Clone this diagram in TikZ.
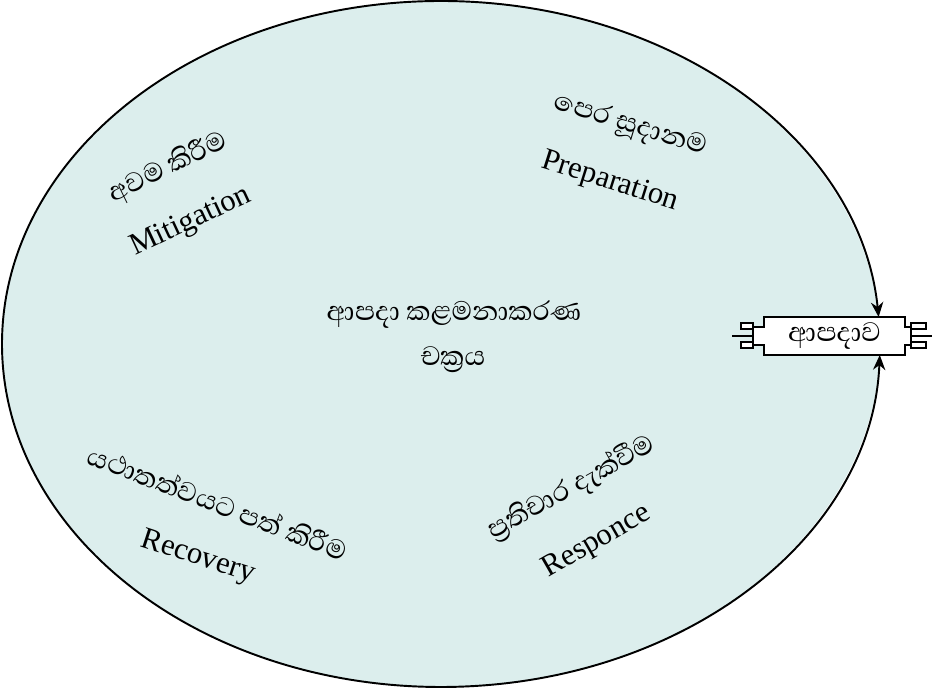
\documentclass[tikz,border=0pt]{standalone}
\usepackage{fontspec}
\setmainfont{Liberation Serif}
\newfontfamily\sinhala[Script=Sinhala]{Abhaya Libre}
\usetikzlibrary{arrows.meta}
\definecolor{cycfill}{RGB}{220,238,237}
\pgfdeclarelayer{bg}
\pgfsetlayers{bg,main}
\begin{document}
\begin{tikzpicture}[x=0.02cm,y=0.02cm,
  engtxt/.style={font=\fontsize{17.5}{20}\selectfont},
  sintxt/.style={font=\sinhala\fontsize{19.5}{22}\selectfont},
  rim/.style={line width=1.1pt,-{Stealth[length=8.5pt,width=7pt]}},
  boxline/.style={line width=1.1pt}]
\useasboundingbox (0,0) rectangle (932,688);
% cycle
\begin{pgfonlayer}{bg}
\fill[cycfill] (441,344) ellipse [x radius=439, y radius=343];
\end{pgfonlayer}
\coordinate (cycw) at (2,344);
\node[sintxt] (mid1) at (454,373) {ආපදා කළමනාකරණ};
\node[sintxt] (mid2) at (453,328) {චක්^^^^200dරය};
\node[sintxt,rotate=26] (mits) at (168,520) {අවම කිරීම};
\node[engtxt,rotate=25] (mit) at (191,466) {Mitigation};
\node[sintxt,rotate=-17] (preps) at (630,562) {පෙර සූදානම};
\node[engtxt,rotate=-17.5] (prep) at (610,506) {Preparation};
\node[sintxt,rotate=-21] (recs) at (218,186) {යථාතත්වයට පත් කිරීම};
\node[engtxt,rotate=-18] (rec) at (198,130) {Recovery};
\node[sintxt,rotate=29] (ress) at (572,200) {ප්^^^^200dරතිචාර දැක්වීම};
\node[engtxt,rotate=30] (res) at (597,146) {Responce};
% disaster
\node[sintxt,minimum width=2.82cm,minimum height=0.76cm,inner sep=0pt] (ad) at (834.5,352) {ආපදාව};
\begin{pgfonlayer}{bg}
\draw[boxline,fill=white] (ad.north west) -- (ad.north east) -- ++(0,-10) -- ++(6,0) -- ++(0,-18) -- ++(-6,0)
  -- (ad.south east) -- (ad.south west) -- ++(0,10) -- ++(-11,0) -- ++(0,18) -- ++(11,0) -- cycle;
\end{pgfonlayer}
\draw[boxline,fill=white] (741,359) rectangle (753,365);
\draw[boxline,fill=white] (741,340) rectangle (753,346);
\draw[boxline,fill=white] (911,359) rectangle (926,365);
\draw[boxline,fill=white] (911,340) rectangle (926,346);
\draw[boxline] (732,352) -- (753,352);
\draw[boxline] (911,352) -- (932,352);
% rim
\draw[rim] (cycw) arc [start angle=180, end angle=4.5, x radius=439, y radius=343];
\draw[rim] (cycw) arc [start angle=-180, end angle=-1.84, x radius=439, y radius=343];
\end{tikzpicture}
\end{document}
